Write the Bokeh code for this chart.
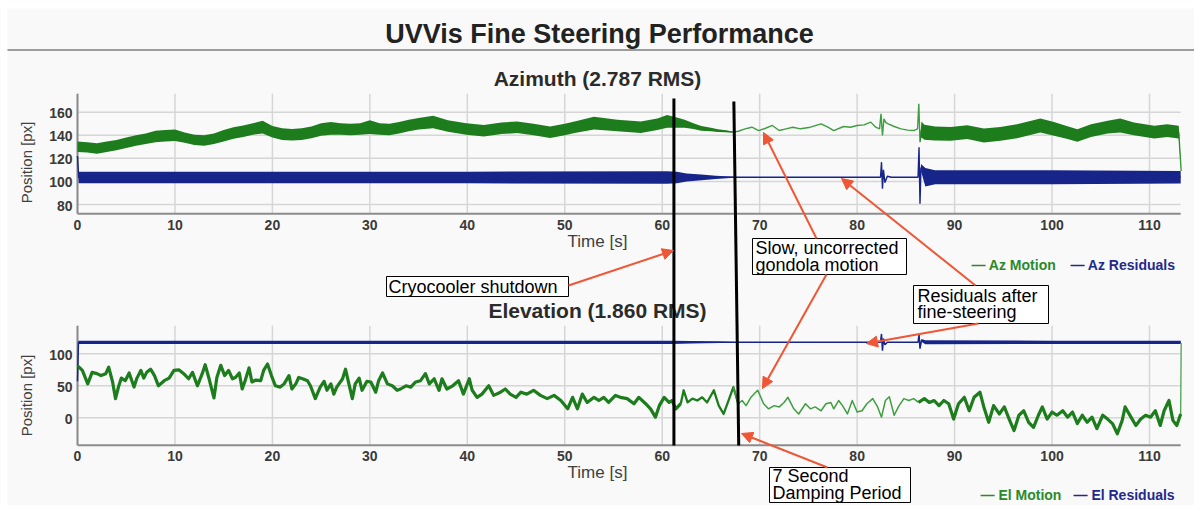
import numpy as np
from bokeh.plotting import figure
from bokeh.models import Range1d, Arrow, NormalHead, ColumnDataSource
from bokeh.core.properties import value
from bokeh.embed import file_html
from bokeh.resources import INLINE

# ---------------- texts and ticks ----------------
TITLE = "UVVis Fine Steering Performance"
AZ_TITLE = "Azimuth (2.787 RMS)"
EL_TITLE = "Elevation (1.860 RMS)"
X_LABEL = "Time [s]"
Y_LABEL = "Position [px]"
T_TICKS = [0, 10, 20, 30, 40, 50, 60, 70, 80, 90, 100, 110]
AZ_TICKS = [80, 100, 120, 140, 160]
EL_TICKS = [0, 50, 100]
T_LIMITS = [0, 113.2]
AZ_LIMITS = [72, 176]
EL_LIMITS = [-43, 144]

# ---------------- Azimuth motion (centre of the noisy trace, and its noise half-width) ----------------
AZ_MOTION_T = [0, 1, 2, 3, 4, 5, 6, 7, 8, 9, 10, 11, 12, 13, 14, 15, 16, 17, 18, 19, 20, 21, 22, 23, 24,
               25, 26, 27, 28, 29, 30, 31, 32, 33, 34, 35, 36.5, 38, 39.9, 41.7, 43.5, 45.1, 46.8, 48.5,
               50, 51, 53, 55.4, 57.8, 59.5, 60.5, 61.5, 62.3, 63.2, 64, 65, 65.7, 66.5, 67.3, 67.8, 68.5,
               69.2, 69.9, 70.6, 71.3, 72.0, 72.7, 73.4, 74.2, 75.2, 76.3, 77.0, 77.6, 78.6, 79.3, 80.0,
               80.7, 81.4, 81.9, 82.3, 82.45, 82.6, 82.75, 82.95, 83.2, 83.8, 84.5, 85.2, 85.8, 86.2,
               86.33, 86.45, 86.6, 86.9, 88, 89.6, 91.3, 93, 94.7, 96.4, 98.8, 100.2, 101.5, 102.6, 104,
               105.7, 107, 108.4, 110.5, 111.8, 113.0, 113.25]
AZ_MOTION = [130, 129.5, 128.5, 130, 131.5, 133.5, 135.5, 137, 139, 139.5, 140, 138, 136, 135.5, 137,
             139.5, 142, 143.5, 145.5, 147, 143, 141, 140.5, 141, 142.5, 145, 146, 145.5, 145, 145.5,
             147, 145.5, 145, 146.5, 148.5, 150, 151.5, 148, 145.5, 144, 146, 147, 145, 142.7, 145, 147,
             150.5, 148.5, 147, 149.5, 152, 151, 150, 148, 146, 145, 144, 143.5, 142.7, 143.5, 145.6,
             147, 144.1, 146.1, 148.5, 144.1, 145.6, 147, 145.6, 147, 149.9, 147, 144.1, 147.6, 147,
             148.5, 149, 151.4, 147, 145.6, 158.6, 139.8, 154.2, 151, 149.9, 147.6, 145.6, 144.5, 144.1,
             145.6, 167.2, 134, 145, 142.7, 141.5, 141.2, 142.7, 139.8, 141.2, 143.5, 148.5, 145.6,
             142.5, 139.8, 144.1, 147, 148.5, 145.6, 142.7, 144.1, 142.7, 109]
AZ_MOTION_NOISE = [4.5, 4.5, 4.5, 4.5, 4.5, 4.5, 4.5, 4.5, 5, 5, 5, 4.5, 4.5, 4.5, 4.5, 5, 5, 5, 5, 5.5,
                   5, 5, 5, 5, 5, 5.5, 5.5, 5, 5, 5, 6, 5, 5, 5, 5, 5,
                   5.5, 5, 5, 5, 5, 5, 5, 5, 5, 5, 5.5, 5, 5, 5, 5.5,
                   4.5, 3.5, 2.5, 2, 1.5, 1.2, 0.8, 0.4,
                   0, 0, 0, 0, 0, 0, 0, 0, 0, 0,
                   0, 0, 0, 0, 0, 0, 0, 0, 0, 0, 0,
                   0, 0, 0, 0, 0, 0, 0, 0, 0, 0,
                   0, 0,
                   7, 6.5, 6, 6, 6, 6, 6, 6, 6, 6, 5.5, 5.5, 5.5, 5.5, 6, 5.5, 5.5, 5.5, 5.5,
                   0]

# ---------------- Azimuth residuals ----------------
AZ_RES_T = [0, 0.12, 20, 40, 60.5, 61.5, 62.5, 64, 65.5, 67, 68, 82.4, 82.5, 82.6, 82.7, 82.85, 83.1,
            83.5, 86.25, 86.35, 86.45, 86.55, 87, 88, 100, 113.2]
AZ_RES = [122, 103.4, 103.4, 103.4, 103.4, 103.4, 103.4, 103.5, 103.5, 103.6, 103.6, 103.6, 116.7,
          93.6, 110, 99, 104.5, 103.6, 103.6, 129.7, 80.6, 112, 103.6, 103.6, 103.6, 103.6]
AZ_RES_NOISE = [0, 5, 5, 5, 5.5, 5, 3.5, 2.5, 1.5, 0.6, 0, 0, 0, 0, 0, 0, 0.5, 0, 0, 0, 0, 3, 8,
                6, 6, 5.5]

# ---------------- Elevation motion ----------------
EL_T = [0, 0.1, 0.5, 1.05, 1.5, 2.0, 2.4, 2.9, 3.2, 3.6, 3.9, 4.2, 4.5, 4.9, 5.3, 5.8, 6.1, 6.5, 6.8,
        7.1, 7.5, 7.9, 8.3, 8.9, 9.4, 9.9, 10.4, 10.9, 11.4, 11.8, 12.3, 12.8, 13.1, 13.5, 14.0, 14.3,
        14.7, 15.1, 15.5, 15.9, 16.2, 16.6, 16.9, 17.2, 17.6, 17.9, 18.3, 18.8, 19.1, 19.5, 19.9, 20.3,
        20.8, 21.2, 21.7, 22.0, 22.4, 22.7, 23.1, 23.6, 23.9, 24.4, 24.9, 25.3, 25.6, 26.0, 26.3, 26.6,
        27.2, 27.5, 27.8, 28.2, 28.5, 28.9, 29.2, 29.7, 30.1, 30.6, 30.9, 31.3, 31.8, 32.3, 32.8, 33.15,
        33.7, 34.2, 34.7, 35.2, 35.7, 36.1, 36.6, 37.1, 37.4, 37.9, 38.5, 39.1, 39.6, 40.2, 40.5, 41.0,
        41.5, 42.2, 42.7, 43.4, 43.9, 44.4, 45.0, 45.5, 46.1, 46.8, 47.5, 48.2, 48.9, 49.6, 50.3, 50.8,
        51.3, 51.8, 52.3, 53.0, 53.5, 54.0, 54.5, 55.2, 55.7, 56.4, 57.1, 57.6, 58.3, 58.8, 59.3, 59.7,
        60.2, 60.7, 61.0, 61.4, 61.9, 62.2, 62.6, 63.1, 63.6, 64.1, 64.6, 65.3, 65.8, 66.3, 66.8, 67.3,
        67.8, 68.2, 68.6, 69.1, 69.8, 70.4, 70.9, 71.5, 72.0, 72.5, 72.9, 73.5, 74.0, 74.7, 75.2, 75.7,
        76.3, 76.8, 77.3, 77.6, 78.1, 78.5, 79.0, 79.5, 80.0, 80.5, 81.0, 81.6, 82.1, 82.5, 82.9, 83.3,
        83.8, 84.3, 84.8, 85.3, 85.8, 86.3, 86.9, 87.4, 87.9, 88.4, 88.9, 89.4, 89.9, 90.4, 91.0, 91.5,
        92.0, 92.6, 93.0, 93.5, 94.0, 94.6, 95.1, 95.6, 96.1, 96.6, 97.1, 97.6, 98.1, 98.6, 99.0, 99.5,
        100.0, 100.5, 101.1, 101.6, 102.1, 102.6, 103.1, 103.6, 104.1, 104.6, 105.2, 105.7, 106.2,
        106.7, 107.2, 107.5, 108.1, 108.6, 109.1, 109.6, 110.1, 110.6, 111.1, 111.5, 112.0, 112.4,
        112.8, 113.2, 113.25]
EL_MOTION = [79, 80, 74, 53, 71, 69, 66, 69, 79, 56, 30, 48, 62, 58, 70, 48, 62, 74, 62,
             71, 76, 66, 50, 58, 62, 74, 75, 69, 61, 71, 50, 69, 83, 61, 31, 63,
             82, 66, 74, 61, 63, 70, 45, 58, 78, 56, 59, 58, 74, 84, 66, 50,
             48, 53, 66, 45, 53, 63, 61, 58, 50, 30, 48, 57, 43, 53, 37, 48,
             61, 76, 56, 30, 53, 62, 43, 57, 56, 40, 58, 70, 53, 50, 43, 45,
             50, 48, 56, 58, 69, 53, 61, 43, 61, 45, 50, 58, 37, 61, 43, 32,
             37, 50, 35, 40, 45, 37, 32, 40, 37, 43, 35, 30, 35, 27, 14, 32,
             14, 37, 24, 32, 27, 32, 24, 35, 32, 30, 22, 32, 22, 14, 1, 19,
             32, 24, 27, 14, 22, 43, 24, 30, 27, 32, 24, 43, 19, 6, 27, 48,
             22, 27, 19, 32, 43, 22, 14, 19, 17, 24, 32, 14, 6, 22, 14, 17,
             11, 22, 24, 14, 27, 19, 6, 27, 9, 11, 22, 30, 17, 1, 27, 33,
             4, 19, 30, 27, 30, 24, 30, 24, 27, 19, 27, 22, -2, 22, 32, 11,
             32, 40, 17, -7, 19, 6, 17, -2, -20, 4, 11, -7, -15, 4, 17, -2,
             9, 4, 11, 1, 9, -9, 4, -7, 1, -17, 4, -2, -9,
             -25, -4, 17, 1, -12, -2, 4, 1, 11, -12, 11, 27, -4,
             -12, 6, 117]

# ---------------- Elevation residuals ----------------
EL_RES_T = [0, 0.1, 20, 40, 61, 63, 66, 67.5, 82.4, 82.5, 82.6, 82.7, 82.85, 83.1, 86.25, 86.35,
            86.45, 86.6, 87, 100, 113.2]
EL_RES = [57, 118, 118, 118, 118, 118, 118, 118, 118, 131, 105, 124, 114, 118, 118, 130, 108, 121,
          118, 118, 118]
EL_RES_NOISE = [0, 2.5, 2.5, 2.5, 2.5, 2, 1.2, 0.5, 0, 0, 0, 0, 0, 0.5, 0, 0, 0, 2, 3, 2.5, 2.5]

# ---------------- events (hand-drawn markers, seconds at top / bottom) ----------------
EVENT_T_TOP = [61.2, 67.35]
EVENT_T_BOTTOM = [61.2, 67.85]

for a, b in [(AZ_MOTION_T, AZ_MOTION), (AZ_MOTION_T, AZ_MOTION_NOISE), (AZ_RES_T, AZ_RES),
             (AZ_RES_T, AZ_RES_NOISE), (EL_T, EL_MOTION), (EL_RES_T, EL_RES), (EL_RES_T, EL_RES_NOISE)]:
    assert len(a) == len(b), (len(a), len(b))

# ---------------- styles ----------------
GREEN = "#1d7d1d"
GREEN_LIGHT = "#3f9e3f"
NAVY = "#17248a"
RED = "#ef5636"
GRID = "#d6d6d6"
AXIS = "#8c8c8c"
TEXT = "#2b2b2b"
BG = "#f9f9f9"
FONT = value("Liberation Sans")

W, H = 1194, 505
PL, PT = 0, 0
PR, PB = PL + W, PT + H


def lin(v_a, p_a, v_b, p_b):
    k = (v_b - v_a) / (p_b - p_a)
    return lambda px: v_a + (px - p_a) * k


tmap = lin(0, 77, 110, 1149)
azmap = lin(160, 111.7, 80, 204.0)
elmap = lin(100, 353.3, 0, 417.3)

p = figure(width=W, height=H, output_backend="svg", toolbar_location=None,
           x_range=Range1d(tmap(PL), tmap(PR)), y_range=Range1d(azmap(PB), azmap(PT)),
           x_axis_type=None, y_axis_type=None, min_border=0)
p.extra_x_ranges = {"px": Range1d(PL, PR)}
p.extra_y_ranges = {"el": Range1d(elmap(PB), elmap(PT)), "px": Range1d(PB, PT)}
p.outline_line_color = None
p.background_fill_color = BG
p.border_fill_color = BG

# white page strips above / left of the chart area
p.quad(left=[0, 0], right=[PR, 7], top=[0, 0], bottom=[8, PB], x_range_name="px", y_range_name="px",
       fill_color="white", line_color=None)


def txt(x, y, text, size, xr="px", yr="px", align="center", baseline="alphabetic",
        color=TEXT, style="normal", angle=0, y_offset=0):
    # y is the visual centre of the capitals
    p.text(x=x, y=y, text=text, x_range_name=xr, y_range_name=yr, text_align=align,
           text_baseline=baseline, text_color=color, text_font=FONT, text_font_size=size,
           text_font_style=style, angle=angle, y_offset=y_offset)


# title + separator
txt([599], [33], [TITLE], "27px", style="bold", color="#222222")
p.segment(x0=[7], x1=[PR], y0=[49.5], y1=[49.5], x_range_name="px", y_range_name="px",
          line_color="#9c9c9c", line_width=2)


def panel(yname, ticks, lim, xlab_y, time_y, label_y):
    nt = len(T_TICKS)
    p.segment(x0=T_TICKS, x1=T_TICKS, y0=[lim[0]] * nt, y1=[lim[1]] * nt, y_range_name=yname,
              line_color=GRID, line_width=1.5)
    ny = len(ticks)
    p.segment(x0=[T_LIMITS[0]] * ny, x1=[T_LIMITS[1]] * ny, y0=ticks, y1=ticks, y_range_name=yname,
              line_color=GRID, line_width=1.5)
    p.segment(x0=[0, 0], x1=[0, T_LIMITS[1]], y0=[lim[0], lim[0]], y1=[lim[1], lim[0]],
              y_range_name=yname, line_color=AXIS, line_width=2)
    txt([72] * ny, ticks, [str(v) for v in ticks], "14px", xr="px", yr=yname, align="right",
        style="bold", color="#3a3a3a", y_offset=1)
    txt(T_TICKS, [xlab_y] * nt, [str(v) for v in T_TICKS], "14px", xr="default", yr="px",
        style="bold", color="#3a3a3a")
    txt([597], [time_y], [X_LABEL], "17px", color="#404040")
    txt([26], [label_y], [Y_LABEL], "15px", baseline="middle", color="#404040", angle=np.pi / 2)


panel("default", AZ_TICKS, AZ_LIMITS, 224, 241, 162)
panel("el", EL_TICKS, EL_LIMITS, 455, 472, 395)
txt([597], [77.5], [AZ_TITLE], "21px", style="bold")
txt([597], [309.5], [EL_TITLE], "21px", style="bold")

# ---------------- data ----------------
azm_t = np.array(AZ_MOTION_T)
azm = np.array(AZ_MOTION)
azm_n = np.array(AZ_MOTION_NOISE)
p.line(azm_t, azm, line_color=GREEN_LIGHT, line_width=1.4)
p.varea(x=azm_t, y1=azm - azm_n, y2=azm + azm_n, fill_color=GREEN)

azr_t = np.array(AZ_RES_T)
azr = np.array(AZ_RES)
azr_n = np.array(AZ_RES_NOISE)
p.line(azr_t, azr, line_color=NAVY, line_width=1.4)
p.varea(x=azr_t, y1=azr - azr_n, y2=azr + azr_n, fill_color=NAVY)

elr_t = np.array(EL_RES_T)
elr = np.array(EL_RES)
elr_n = np.array(EL_RES_NOISE)
p.line(elr_t, elr, line_color=NAVY, line_width=1.5, y_range_name="el")
p.varea(x=elr_t, y1=elr - elr_n, y2=elr + elr_n, fill_color=NAVY, y_range_name="el")

el_t = np.array(EL_T)
el_v = np.array(EL_MOTION)


def piece(t0, t1):
    m = (el_t >= t0) & (el_t <= t1)
    return el_t[m], el_v[m]


for (t0, t1), lw, col in [((0, 61.9), 3.2, GREEN), ((61.9, 67.8), 2.3, GREEN),
                          ((67.3, 86.3), 1.5, GREEN_LIGHT), ((86.3, 113.2), 3.2, GREEN),
                          ((113.2, 113.3), 1.2, GREEN_LIGHT)]:
    xs, ys = piece(t0, t1)
    p.line(xs, ys, line_color=col, line_width=lw, y_range_name="el", line_join="round")

# ---------------- legends ----------------
txt([971, 1070], [264, 264], ["\u2014 Az Motion", "\u2014 Az Residuals"], "14px", align="left",
    style="bold", color=["#2a8a2a", "#1f2a8c"])
txt([980, 1073], [494, 494], ["\u2014 El Motion", "\u2014 El Residuals"], "14px", align="left",
    style="bold", color=["#2a8a2a", "#1f2a8c"])

# ---------------- annotations ----------------
p.segment(x0=EVENT_T_TOP, x1=EVENT_T_BOTTOM, y0=[98, 101], y1=[445, 445], y_range_name="px",
          line_color="black", line_width=3)

p.quad(left=[386, 752, 913, 769], right=[568, 906, 1048, 910], top=[276, 238, 285, 467],
       bottom=[296, 274, 323, 502], x_range_name="px", y_range_name="px",
       fill_color="white", line_color="black", line_width=1)

arrows = ColumnDataSource(dict(
    x0=[568, 816, 826, 975, 978, 827], y0=[285, 238, 274, 285, 323, 467],
    x1=[673, 763, 762, 841, 866, 741], y1=[250, 132, 388, 178, 343, 433]))
p.add_layout(Arrow(source=arrows, x_start="x0", y_start="y0", x_end="x1", y_end="y1",
                   end=NormalHead(size=11, fill_color=RED, line_color=RED, line_width=1),
                   line_color=RED, line_width=2, x_range_name="px", y_range_name="px"))

txt([388], [286], ["Cryocooler shutdown"], "18px", align="left", color="black")
txt([755, 755], [247, 264], ["Slow, uncorrected", "gondola motion"], "18px", align="left", color="black")
txt([917, 917], [295, 311], ["Residuals after", "fine-steering"], "18px", align="left", color="black")
txt([772, 772], [475.5, 492.5], ["7 Second", "Damping Period"], "18px", align="left", color="black")

open("out.html", "w").write(file_html(p, INLINE))
